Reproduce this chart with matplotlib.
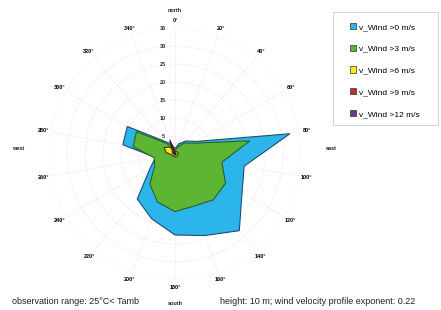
import numpy as np
import matplotlib
matplotlib.use("Agg")
import matplotlib.pyplot as plt
from matplotlib.patches import Patch, Rectangle

plt.rcParams['font.family'] = ['Liberation Sans', 'DejaVu Sans']

# Windrichtungen (Grad) und Häufigkeiten je Geschwindigkeitsklasse
richtung = [0, 20, 40, 60, 80, 100, 120, 140, 160, 180, 200, 220, 240, 260, 280, 300, 320, 340]
wind_0 = [1.5, 3.0, 4.7, 7.0, 32.4, 19.5, 21.5, 27.8, 24.1, 22.5, 19.1, 16.3, 8.0, 5.5, 14.7, 15.3, 4.7, 3.0]
wind_3 = [1.0, 2.0, 4.0, 6.0, 21.1, 13.2, 16.2, 16.6, 15.4, 16.0, 14.2, 10.9, 6.5, 5.9, 11.8, 12.4, 4.0, 2.0]
wind_6 = [0.8, 0.8, 0.8, 0.8, 1.0, 0.8, 0.8, 0.8, 0.8, 0.8, 0.8, 0.8, 0.8, 1.0, 2.5, 3.5, 2.5, 1.5]
wind_9 = [0.4, 0.3, 0.3, 0.3, 0.3, 0.3, 0.3, 0.3, 0.3, 0.3, 0.3, 0.3, 0.3, 0.3, 0.5, 0.8, 1.2, 4.2]
wind_12 = [0.2, 0.1, 0.1, 0.1, 0.1, 0.1, 0.1, 0.1, 0.1, 0.1, 0.1, 0.1, 0.1, 0.1, 0.2, 0.3, 0.4, 0.6]

namen = ['v_Wind >0 m/s', 'v_Wind >3 m/s', 'v_Wind >6 m/s', 'v_Wind >9 m/s', 'v_Wind >12 m/s']
farben = ['#2bb5ea', '#5db534', '#f6ea1e', '#b8342c', '#6a3d8a']
kanten = ['#1d4f6e', '#2d5e2a', '#3a3a1a', '#3a1a1a', '#2a1a3a']
reihen = [wind_0, wind_3, wind_6, wind_9, wind_12]

rringe = [5, 10, 15, 20, 25, 30, 35]

fig = plt.figure(figsize=(4.41, 3.10), dpi=100)
ax = fig.add_axes([49 / 441, 30 / 310, 252 / 441, 252 / 310], projection='polar')
ax.set_theta_zero_location('N')
ax.set_theta_direction(-1)
ax.set_ylim(0, 35)

theta = np.deg2rad(richtung + [richtung[0]])
for werte, fc, ec in zip(reihen, farben, kanten):
    ax.fill(theta, werte + [werte[0]], facecolor=fc, edgecolor=ec, linewidth=0.8, zorder=3)

# Gitter
ax.set_rgrids(rringe, labels=[''] * len(rringe))
ax.set_thetagrids(richtung, labels=[f'{d}°' for d in richtung], fontsize=4, fontweight='bold')
ax.tick_params(axis='x', pad=-5)
ax.grid(color='#efd8d8', linestyle=':', linewidth=0.6)
ax.spines['polar'].set_visible(False)

for r in rringe:
    ax.annotate(str(r), xy=(0, r), xytext=(-12, 0), textcoords='offset pixels',
                ha='center', va='center', fontsize=4, fontweight='bold', color='#333333')

for wort, w, r in [('north', 0, 40.0), ('east', 88, 43.5), ('south', 180, 41.5), ('west', 272, 43.5)]:
    ax.text(np.deg2rad(w), r, wort, ha='center', va='center', fontsize=4, fontweight='bold',
            color='#222222', clip_on=False)

# Legendenrahmen
fig.patches.append(Rectangle((333 / 441, 1 - 125 / 310), 105 / 441, 113 / 310, transform=fig.transFigure,
                             facecolor='white', edgecolor='#cccccc', linewidth=0.6))
griffe = [Patch(facecolor=fc, edgecolor='#333333', linewidth=0.5) for fc in farben]
leg = fig.legend(griffe, namen, loc='upper left', bbox_to_anchor=(350 / 441, 1 - 23 / 310),
                 fontsize=6.0, frameon=False, labelspacing=1.65, handlelength=0.75, handleheight=0.75,
                 handletextpad=0.3, borderpad=0, borderaxespad=0)

fig.text(12 / 441, 1 - 301 / 310, 'observation range: 25°C< Tamb', fontsize=6.5, va='center', color='#222222')
fig.text(220 / 441, 1 - 302 / 310, 'height: 10 m; wind velocity profile exponent: 0.22', fontsize=6.5,
         va='center', color='#222222')

fig.savefig('out.png', dpi=100)
